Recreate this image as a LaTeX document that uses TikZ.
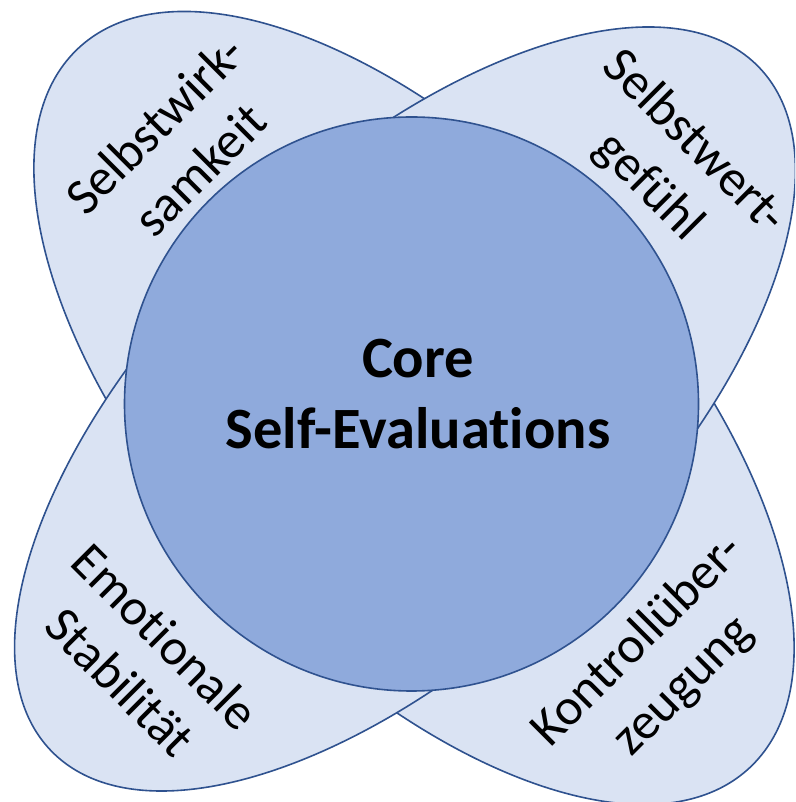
\documentclass[tikz,border=0pt]{standalone}
\usepackage{fontspec}
\setmainfont{Carlito}[Ligatures={NoCommon}]
\definecolor{lobefill}{HTML}{DAE3F3}
\definecolor{corefill}{HTML}{8FAADC}
\definecolor{edge}{HTML}{2F528F}
\begin{document}
\begin{tikzpicture}[x=1pt,y=1pt,
  lobe/.style={fill=lobefill,draw=edge,line width=1.6pt},
  corestyle/.style={circle,fill=corefill,draw=edge,line width=1.6pt,minimum size=574pt,inner sep=0pt},
  lobetext/.style={align=center,font=\fontsize{51.5}{64}\selectfont,inner sep=0pt},
  coretext/.style={align=center,font=\fontsize{58.5}{71}\selectfont\bfseries,inner sep=0pt}]
\useasboundingbox (0,0) rectangle (795,802);
\clip (0,0) rectangle (795,802);
\draw[lobe,rotate around={-47:(414,394)}] (414,394) ellipse [x radius=492, y radius=244];
\draw[lobe,rotate around={44:(405,393)}] (405,393) ellipse [x radius=492, y radius=237];
\node[corestyle] (core) at (411.5,398) {};
\node[coretext] (coretxt) at (418,408) {Core\\Self-Evaluations};
\node[lobetext,rotate=45] (sw) at (177,655) {Selbstwirk-\\samkeit};
\node[lobetext,rotate=-45] (swg) at (671,637) {Selbstwert-\\gefühl};
\node[lobetext,rotate=-45] (es) at (143,143) {Emotionale\\Stabilität};
\node[lobetext,rotate=45] (ku) at (661,138) {Kontrollüber-\\zeugung};
\end{tikzpicture}
\end{document}
